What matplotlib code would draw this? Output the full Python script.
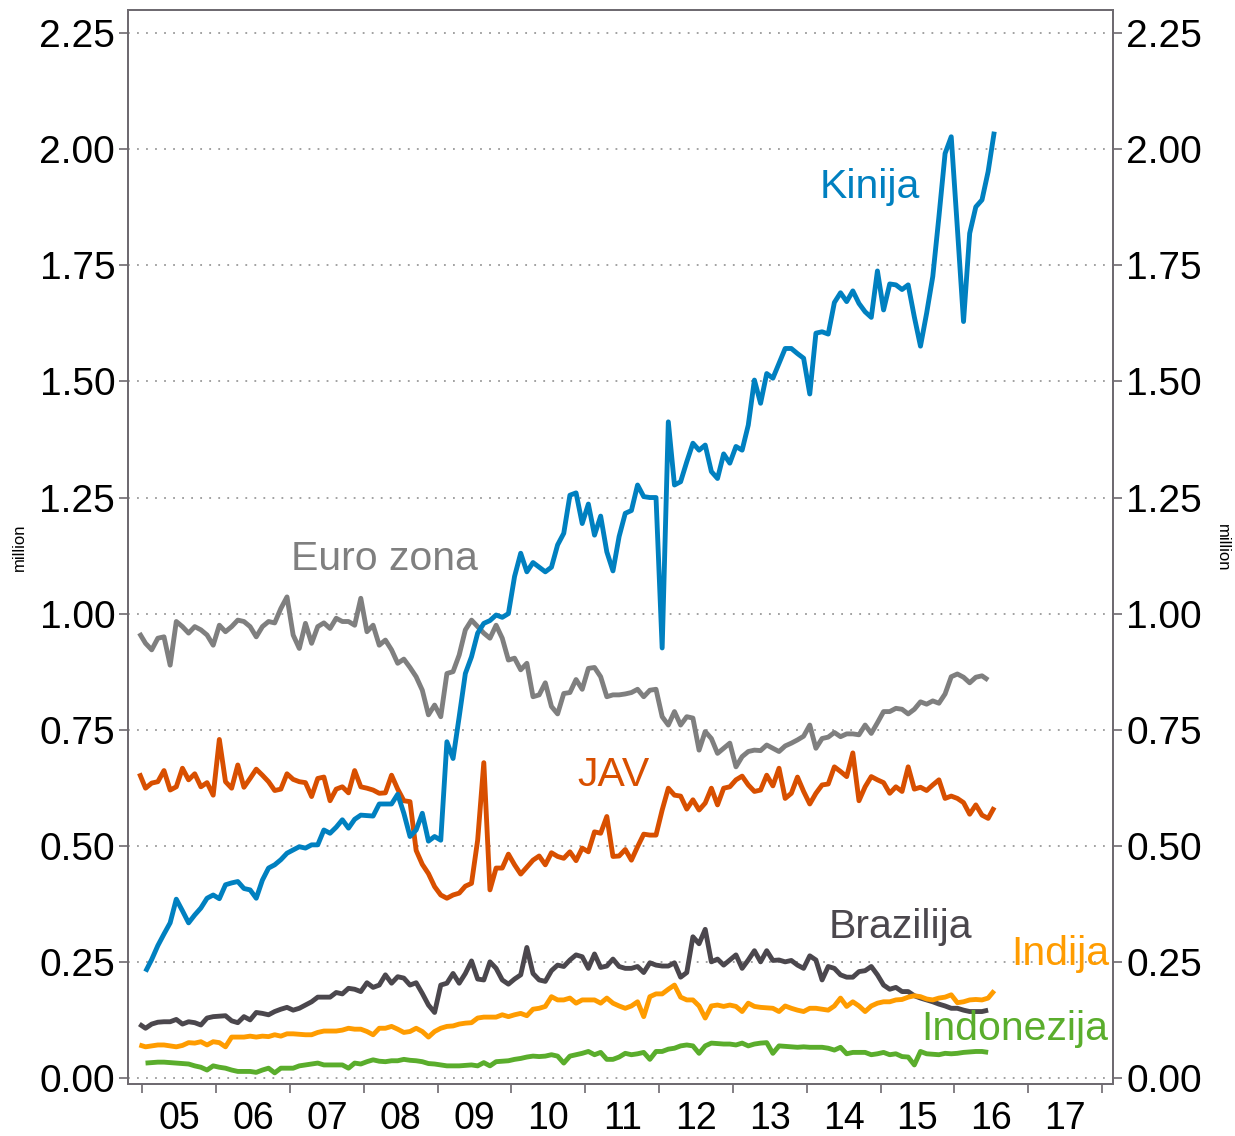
import numpy as np
import matplotlib
matplotlib.use("Agg")
import matplotlib.pyplot as plt
from matplotlib.ticker import FixedLocator, NullFormatter, FixedFormatter

plt.rcParams['font.family'] = ['Liberation Sans', 'DejaVu Sans']

# monthly values, million; each series starts at month index (0 = Jan 2005)
euro_start = 0
euro = [.958, .936, .922, .947, .95, .889, .983, .972, .958, .972, .965, .954,
        .932, .975, .961, .972, .986, .983, .972, .95, .972, .983, .98, 1.011,
        1.036, .954, .925, .979, .936, .972, .98, .968, .99, .983, .983, .975,
        1.033, .961, .975, .932, .943, .922, .893, .902, .884, .864, .835, .782,
        .803, .778, .871, .875, .911, .965, .986, .972, .958, .947, .975, .947,
        .9, .904, .879, .893, .821, .825, .851, .8, .784, .828, .83, .858,
        .837, .882, .884, .864, .821, .825, .825, .827, .83, .837, .821, .835,
        .837, .778, .76, .789, .76, .778, .775, .706, .746, .731, .699, .71,
        .721, .67, .692, .703, .706, .705, .717, .71, .703, .715, .721, .728,
        .736, .76, .71, .731, .734, .744, .735, .741, .741, .739, .76, .742,
        .765, .789, .789, .796, .794, .784, .794, .81, .805, .812, .807, .827,
        .864, .87, .863, .851, .863, .866, .857]

jav_start = 0
jav = [.656, .624, .635, .638, .662, .62, .627, .667, .642, .655, .627, .636,
       .609, .729, .638, .624, .674, .626, .645, .665, .652, .638, .619, .622,
       .655, .643, .638, .636, .606, .645, .648, .597, .622, .627, .614, .662,
       .627, .624, .62, .613, .614, .652, .622, .597, .595, .49, .46, .44,
       .412, .394, .387, .394, .398, .413, .419, .512, .679, .405, .452, .452,
       .482, .459, .439, .454, .469, .478, .459, .485, .477, .473, .487, .468,
       .495, .487, .53, .527, .563, .477, .478, .492, .469, .498, .525, .523,
       .523, .577, .624, .609, .607, .579, .599, .577, .592, .624, .588, .624,
       .627, .642, .65, .631, .617, .62, .652, .629, .667, .602, .613, .648,
       .617, .59, .613, .631, .633, .67, .66, .649, .70, .597, .627, .649,
       .642, .636, .613, .627, .617, .67, .622, .626, .619, .631, .642, .602,
       .607, .602, .593, .568, .588, .566, .559, .583]

kinija_start = 1
kinija = [.229, .255, .285, .31, .334, .385, .36, .334, .351, .366, .387, .394,
          .386, .416, .42, .423, .408, .405, .387, .426, .452, .459, .47, .484,
          .491, .498, .495, .502, .502, .534, .527, .54, .556, .538, .557, .566,
          .565, .564, .59, .59, .59, .611, .57, .52, .534, .57, .51, .52,
          .512, .724, .688, .778, .871, .907, .958, .979, .985, .997, .992, 1.0,
          1.08, 1.13, 1.09, 1.11, 1.10, 1.09, 1.10, 1.148, 1.173, 1.255, 1.26, 1.194,
          1.236, 1.169, 1.21, 1.133, 1.092, 1.166, 1.216, 1.222, 1.277, 1.252, 1.25, 1.25,
          .926, 1.413, 1.277, 1.284, 1.327, 1.367, 1.352, 1.363, 1.306, 1.291, 1.344, 1.324,
          1.36, 1.352, 1.406, 1.503, 1.453, 1.517, 1.507, 1.539, 1.571, 1.571, 1.56, 1.55,
          1.473, 1.604, 1.607, 1.602, 1.67, 1.691, 1.672, 1.695, 1.668, 1.65, 1.638, 1.738,
          1.654, 1.71, 1.708, 1.698, 1.708, 1.639, 1.576, 1.647, 1.726, 1.855, 1.991, 2.027,
          1.83, 1.629, 1.819, 1.876, 1.891, 1.952, 2.038]

brazilija_start = 0
brazilija = [.116, .107, .116, .12, .121, .121, .126, .116, .121, .119, .114, .129,
             .132, .133, .134, .123, .119, .132, .125, .141, .139, .136, .143, .148,
             .152, .146, .15, .157, .164, .174, .174, .174, .184, .181, .193, .191,
             .186, .205, .195, .20, .222, .204, .218, .215, .20, .205, .182, .157,
             .141, .20, .204, .225, .204, .225, .252, .213, .211, .25, .236, .211,
             .202, .213, .222, .281, .225, .211, .208, .231, .243, .24, .254, .265,
             .261, .236, .267, .238, .241, .256, .24, .236, .236, .24, .227, .248,
             .243, .241, .241, .248, .217, .227, .304, .289, .32, .25, .256, .243,
             .254, .265, .236, .254, .274, .25, .274, .253, .254, .25, .253, .243,
             .236, .263, .254, .211, .24, .236, .222, .217, .217, .229, .231, .24,
             .222, .20, .191, .195, .186, .186, .177, .172, .168, .164, .159, .155,
             .15, .15, .146, .143, .143, .143, .146]

indija_start = 0
indija = [.071, .067, .069, .071, .071, .069, .067, .07, .076, .075, .078, .071,
          .078, .076, .067, .088, .088, .088, .09, .088, .09, .089, .093, .09,
          .095, .095, .094, .093, .093, .098, .101, .101, .101, .103, .107, .105,
          .105, .10, .093, .107, .107, .111, .105, .098, .10, .107, .10, .088,
          .10, .107, .111, .112, .116, .118, .119, .129, .131, .131, .131, .136,
          .132, .136, .139, .134, .148, .15, .154, .175, .168, .168, .172, .161,
          .168, .168, .168, .161, .172, .161, .155, .15, .155, .164, .132, .175,
          .181, .181, .191, .20, .174, .168, .168, .155, .129, .155, .157, .154,
          .157, .154, .143, .161, .154, .152, .151, .15, .143, .155, .15, .146,
          .143, .15, .15, .148, .146, .155, .172, .154, .164, .155, .143, .155,
          .161, .164, .164, .168, .169, .174, .177, .175, .17, .168, .172, .174,
          .179, .162, .164, .168, .169, .168, .172, .188]

indonezija_start = 1
indonezija = [.032, .033, .034, .034, .033, .032, .031, .03, .026, .023, .017, .026,
              .023, .021, .017, .014, .014, .014, .012, .017, .021, .011, .021, .021,
              .021, .026, .028, .03, .032, .028, .028, .028, .028, .021, .032, .03,
              .035, .039, .036, .035, .037, .037, .04, .038, .037, .035, .031, .03,
              .028, .026, .026, .026, .027, .028, .026, .033, .026, .035, .036, .037,
              .04, .042, .045, .047, .046, .047, .05, .047, .032, .047, .05, .053,
              .057, .05, .055, .04, .04, .045, .053, .05, .052, .055, .04, .057,
              .057, .062, .064, .069, .071, .069, .053, .069, .075, .074, .073, .073,
              .071, .075, .069, .073, .075, .076, .053, .069, .068, .067, .066, .067,
              .066, .066, .066, .064, .06, .066, .052, .055, .055, .055, .05, .052,
              .055, .05, .052, .046, .045, .028, .057, .052, .051, .05, .053, .052,
              .053, .055, .056, .057, .057, .055]

year_labels = ['05', '06', '07', '08', '09', '10', '11', '12', '13', '14', '15', '16', '17']
y_ticks = [0.0, 0.25, 0.5, 0.75, 1.0, 1.25, 1.5, 1.75, 2.0, 2.25]

series = [
    (euro, euro_start, '#7f7f7f', 'Euro zona', 2008.28, 1.094),
    (jav, jav_start, '#d84f00', 'JAV', 2011.38, 0.628),
    (kinija, kinija_start, '#0080c0', 'Kinija', 2014.85, 1.896),
    (brazilija, brazilija_start, '#4b474d', 'Brazilija', 2015.27, 0.302),
    (indija, indija_start, '#ff9c00', 'Indija', 2017.44, 0.244),
    (indonezija, indonezija_start, '#5aad2c', 'Indonezija', 2016.82, 0.082),
]

fig = plt.figure(figsize=(12.35, 11.36), dpi=100)
ax = fig.add_axes([0.1040, 0.0458, 0.7972, 0.9454])

spine_col = '#6e6a70'

for vals, start, col, name, lx, ly in series:
    t = 2005 + (np.arange(len(vals)) + start - 0.5) / 12
    ax.plot(t, vals, color=col, lw=3.5, solid_joinstyle='round', solid_capstyle='butt', zorder=3)
    ax.text(lx, ly, name, color=col, fontsize=29.5, ha='center', va='baseline', zorder=4)

ax.set_xlim(2004.81, 2018.15)
ax.set_ylim(-0.013, 2.30)

ax.xaxis.set_major_locator(FixedLocator(np.arange(2005, 2019)))
ax.xaxis.set_major_formatter(NullFormatter())
ax.xaxis.set_minor_locator(FixedLocator(np.arange(2005, 2018) + 0.5))
ax.xaxis.set_minor_formatter(FixedFormatter(year_labels))
ax.tick_params(axis='x', which='major', length=6.5, width=1.2, color=spine_col, direction='out')
ax.tick_params(axis='x', which='minor', length=0, labelsize=27, pad=12)

ax.set_yticks(y_ticks)
ax.set_yticklabels(['%.2f' % v for v in y_ticks])
ax.tick_params(axis='y', length=6.5, width=1.2, color=spine_col, labelsize=28, pad=3)
ax.grid(axis='y', color='#9a9a9a', linestyle=(0, (1, 4)), linewidth=1.3)

ax2 = ax.twinx()
ax2.set_ylim(ax.get_ylim())
ax2.set_yticks(y_ticks)
ax2.set_yticklabels(['%.2f' % v for v in y_ticks])
ax2.tick_params(axis='y', length=6.5, width=1.2, color=spine_col, labelsize=28, pad=3)

for a in (ax, ax2):
    for s in a.spines.values():
        s.set_color(spine_col)
        s.set_linewidth(1.3)

fig.text(0.016, 0.518, 'million', rotation=90, ha='center', va='center', fontsize=12)
fig.text(0.9895, 0.518, 'million', rotation=270, ha='center', va='center', fontsize=12)

fig.savefig('out.png', dpi=100)
